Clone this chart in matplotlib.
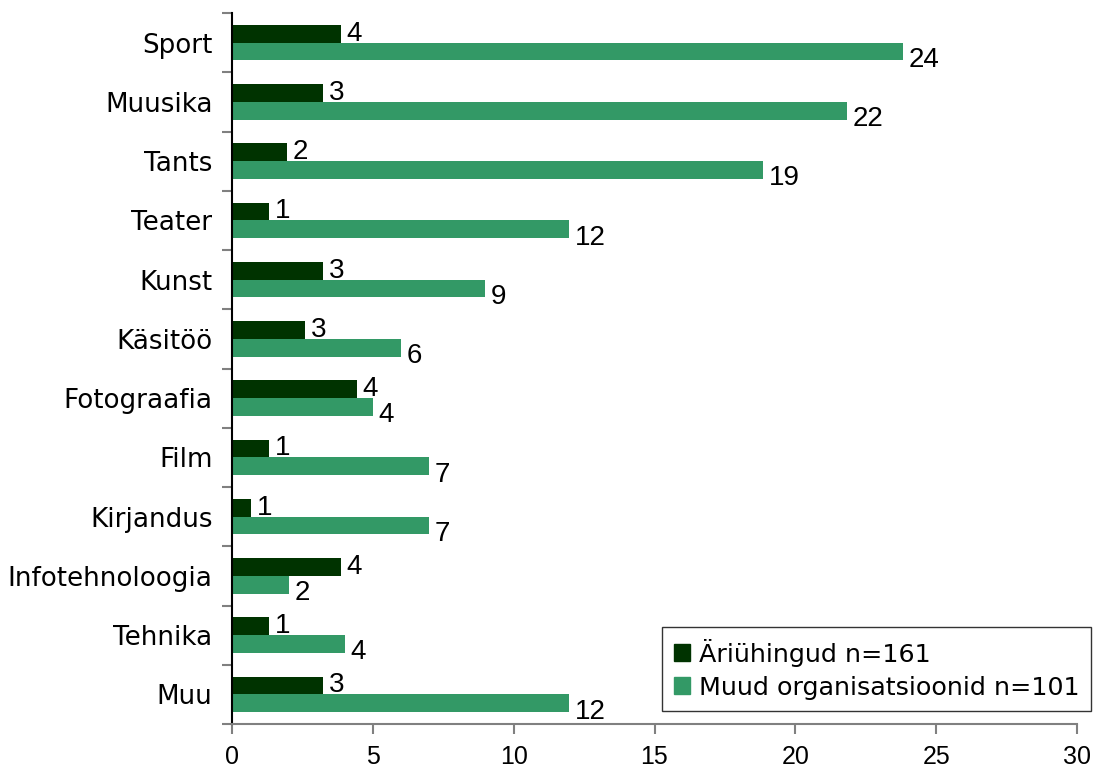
import numpy as np
import matplotlib.pyplot as plt
from matplotlib.patches import Patch

categories = ["Sport", "Muusika", "Tants", "Teater", "Kunst", "Käsitöö", "Fotograafia",
              "Film", "Kirjandus", "Infotehnoloogia", "Tehnika", "Muu"]
# bar lengths (percent) and the printed labels
ari_values = [3.87, 3.23, 1.95, 1.31, 3.23, 2.59, 4.44, 1.31, 0.67, 3.87, 1.31, 3.23]
ari_labels = ["4", "3", "2", "1", "3", "3", "4", "1", "1", "4", "1", "3"]
muud_values = [23.82, 21.83, 18.85, 11.96, 8.98, 6.0, 5.0, 6.99, 6.99, 2.02, 4.01, 11.96]
muud_labels = ["24", "22", "19", "12", "9", "6", "4", "7", "7", "2", "4", "12"]
series_names = ["Äriühingud n=161", "Muud organisatsioonid n=101"]

dark = "#003300"
green = "#339966"

fig = plt.figure(figsize=(10.93, 7.71), dpi=100)
ax = fig.add_axes([232/1093, 1-724/771, (1077-232)/1093, (724-13)/771])

y = np.arange(len(categories))
h = 0.3
ax.barh(y - h/2, ari_values, height=h, color=dark)
ax.barh(y + h/2, muud_values, height=h, color=green)

for yi, v, lab in zip(y, ari_values, ari_labels):
    ax.annotate(lab, (v, yi - h/2), xytext=(4, 0), textcoords="offset points",
                va="center", ha="left", fontsize=20, family="Liberation Sans")
for yi, v, lab in zip(y, muud_values, muud_labels):
    ax.annotate(lab, (v, yi + h/2), xytext=(4, -6), textcoords="offset points",
                va="center", ha="left", fontsize=20, family="Liberation Sans")

ax.set_xlim(0, 30)
ax.set_ylim(len(categories) - 0.5, -0.5)
ax.set_xticks(np.arange(0, 31, 5))
ax.set_xticklabels([str(t) for t in range(0, 31, 5)])
ax.set_yticks(y)
ax.set_yticklabels(categories, fontsize=18.8, family="DejaVu Sans")
ax.set_yticks(np.arange(-0.5, len(categories), 1), minor=True)
ax.tick_params(axis="y", which="major", length=0, pad=14)
ax.tick_params(axis="y", which="minor", length=7, color="#808080", width=1.5)
ax.tick_params(axis="x", length=7, color="#808080", width=1.5, pad=8, labelsize=18)
for t in ax.get_xticklabels():
    t.set_family("Liberation Sans")

for s in ["top", "right"]:
    ax.spines[s].set_visible(False)
ax.spines["left"].set_color("black")
ax.spines["left"].set_linewidth(1.5)
ax.spines["bottom"].set_color("#808080")
ax.spines["bottom"].set_linewidth(1.5)

handles = [Patch(color=dark), Patch(color=green)]
leg = ax.legend(handles, series_names, loc="lower right", bbox_to_anchor=(1091/1093, 1-711/771),
                bbox_transform=fig.transFigure, prop={"family": "DejaVu Sans", "size": 18.3},
                frameon=True, fancybox=False, edgecolor="black", handlelength=0.65,
                handleheight=0.65, handletextpad=0.35, borderpad=0.45, labelspacing=0.35,
                borderaxespad=0)
leg.get_frame().set_linewidth(1)

fig.savefig("out.png", dpi=100)
